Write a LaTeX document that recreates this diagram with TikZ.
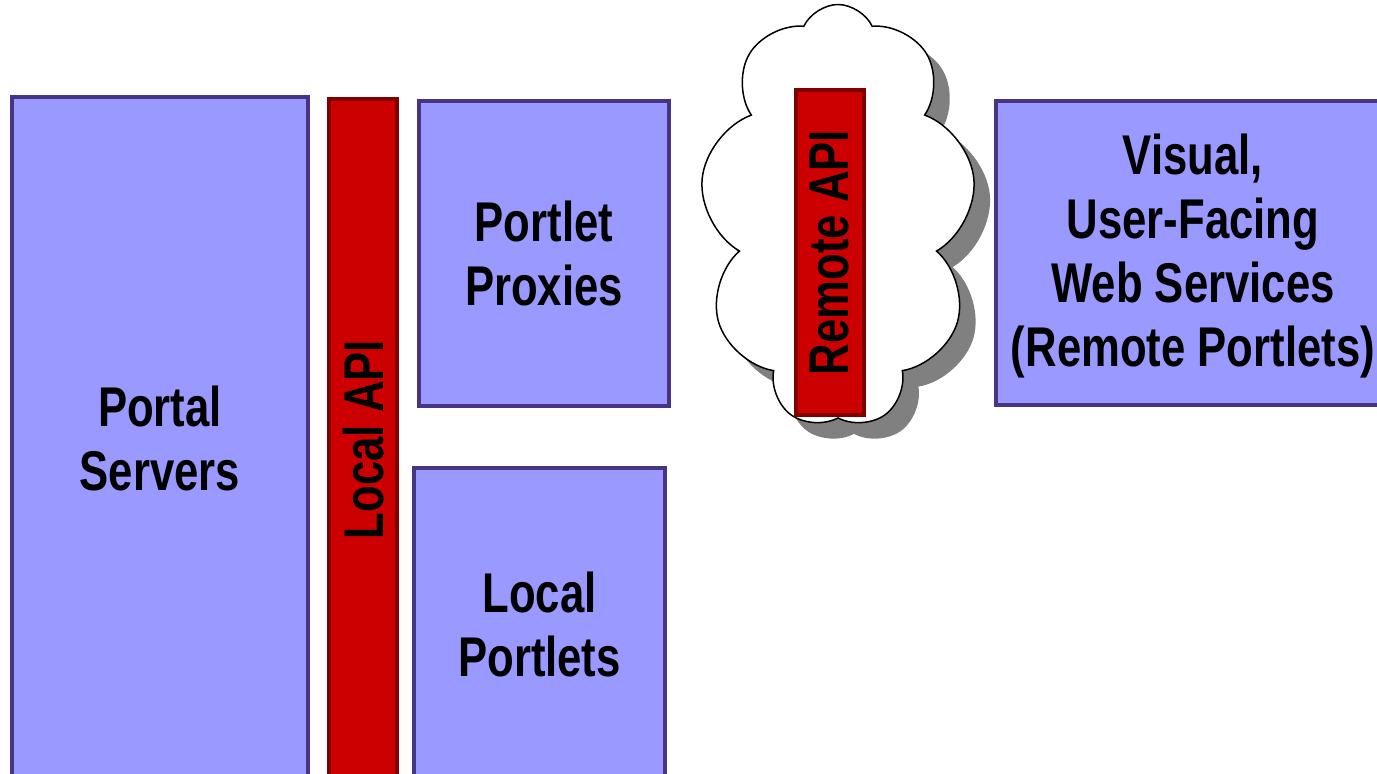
\documentclass[tikz,border=0pt]{standalone}
\usepackage{fontspec}
\newfontfamily\slidefont{Liberation Sans}[FakeStretch=0.78]
\usetikzlibrary{shapes.symbols}
\definecolor{boxfill}{RGB}{153,153,255}
\definecolor{boxline}{RGB}{72,52,132}
\definecolor{apifill}{RGB}{204,0,0}
\definecolor{apiline}{RGB}{128,0,0}
\definecolor{cloudshade}{RGB}{128,128,128}
\tikzset{
  portlet/.style={draw=boxline,fill=boxfill,line width=3.5pt,inner sep=0pt,align=center,
    font=\slidefont\bfseries\fontsize{56}{64}\selectfont},
  api/.style={draw=apiline,fill=apifill,line width=3.5pt,inner sep=0pt,rotate=90,
    font=\slidefont\bfseries\fontsize{56}{64}\selectfont},
  puffy/.style={cloud,cloud puffs=9,cloud puff arc=130,aspect=0.65,minimum width=276pt,minimum height=423pt,inner sep=0pt}
}
\begin{document}
\begin{tikzpicture}[x=1pt,y=-1pt]
  \useasboundingbox (0,0) rectangle (1377,774);
  %cloud and its shadow
  \node[puffy,fill=cloudshade] (cloud shadow) at (854,232) {};
  \node[puffy,draw,fill=white,line width=1.5pt] (cloud) at (838,216) {};
  %portal side
  \node[portlet,minimum width=296,minimum height=683] (servers) at (160,438.5) {Portal\\Servers};
  \node[portlet,minimum width=250,minimum height=305] (proxies) at (544,253.5) {Portlet\\Proxies};
  \node[portlet,minimum width=251,minimum height=312] (local portlets) at (539.5,624) {Local\\Portlets};
  %remote side
  \node[portlet,minimum width=394,minimum height=304,text depth=6pt] (remote portlets) at (1193,253) {Visual,\\User-Facing\\Web Services\\(Remote Portlets)};
  %api bars
  \node[api,minimum width=681,minimum height=68] (local api) at (363,439.5) {Local API};
  \node[api,minimum width=325,minimum height=68] (remote api) at (830,252.5) {Remote API};
\end{tikzpicture}
\end{document}
